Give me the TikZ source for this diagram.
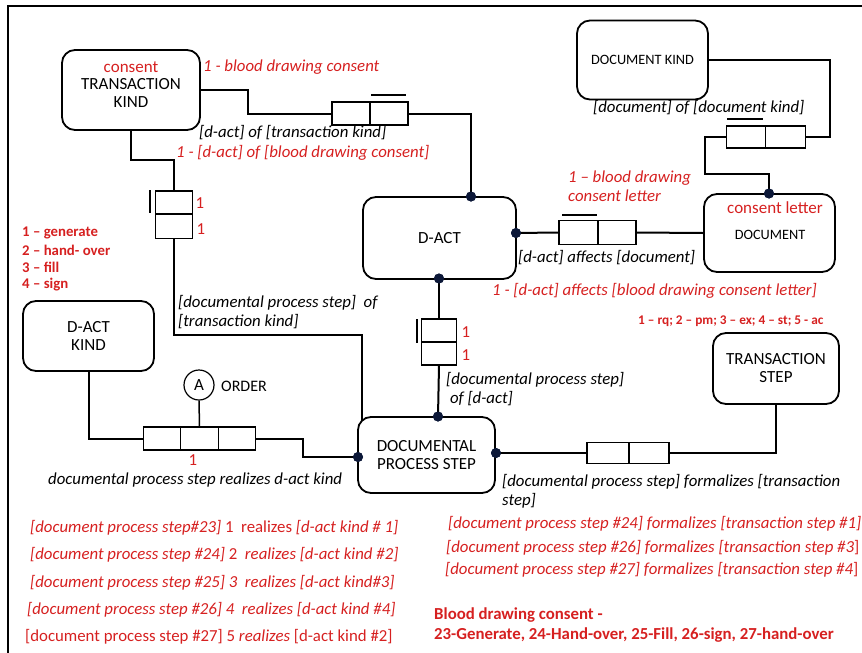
\documentclass[tikz,border=0pt]{standalone}
\usepackage{fontspec}
\setmainfont{Carlito}
\usetikzlibrary{calc}
\definecolor{rd}{RGB}{214,32,32}
\definecolor{dotc}{RGB}{12,24,56}
\newcommand\fslbl{\fontsize{16.8}{19}\selectfont}
\newcommand\fsbox{\fontsize{17}{18.5}\selectfont}
\newcommand\fsdoc{\fontsize{14.3}{17}\selectfont}
\newcommand\fsleg{\fontsize{14.8}{17}\selectfont}
\newcommand\fssmall{\fontsize{13.3}{15}\selectfont}
\newcommand\fsbig{\fontsize{16.8}{20}\selectfont}

\begin{document}
\begin{tikzpicture}[x=1pt,y=-1pt,
  box/.style={draw, line width=1.8pt, rounded corners=13pt, align=center, inner sep=0pt, font=\fsbox},
  cell/.style={draw, line width=1.1pt, minimum width=38pt, minimum height=23pt, inner sep=0pt},
  con/.style={line width=2pt},
  bar/.style={line width=2pt},
  dot/.style={circle, fill=dotc, inner sep=0pt, minimum size=10pt},
  lbl/.style={anchor=west, inner sep=0pt, font=\fslbl\itshape, align=left},
  rlbl/.style={lbl, text=rd},
  one/.style={inner sep=0pt, text=rd, font=\fslbl},
  leg/.style={anchor=west, inner sep=0pt, text=rd, font=\fsleg\bfseries},
  rlist/.style={anchor=west, inner sep=0pt, text=rd, font=\fslbl}
]
\useasboundingbox (0,0) rectangle (862,653);

% outer frame
\draw[line width=1.8pt] (8,653) -- (8,6) -- (862,6);

% object classes
\node[box, minimum width=138pt, minimum height=80pt] (tk) at (131,90) {};
\node[inner sep=0pt, font=\fsbox, align=center] (tkt) at (131,93) {TRANSACTION\\[-0.5pt]KIND};
\node[inner sep=0pt, font=\fsbox, text=rd] (tkc) at (131,67) {consent};

\node[box, minimum width=131pt, minimum height=79pt, font=\fsdoc] (dk) at (642.5,60) {DOCUMENT KIND};

\node[box, minimum width=153pt, minimum height=82pt] (dact) at (439.5,238) {D-ACT};

\node[box, minimum width=131pt, minimum height=78pt, font=\fsdoc] (doc) at (769.5,233) {};
\node[inner sep=0pt, font=\fsdoc] (doct) at (770,235) {DOCUMENT};
\node[inner sep=0pt, font=\fsbox, text=rd] (docc) at (775,208) {consent letter};

\node[box, minimum width=131pt, minimum height=70pt] (dak) at (88.5,336) {D-ACT\\[-0.5pt]KIND};

\node[box, minimum width=137pt, minimum height=76pt] (dps) at (426.5,455) {DOCUMENTAL\\[-0.5pt]PROCESS STEP};

\node[box, minimum width=126pt, minimum height=71pt] (ts) at (776,368.5) {TRANSACTION\\[-0.5pt]STEP};

% fact types
\node[cell] (f1a) at (351,113.5) {};
\node[cell] (f1b) at (389,113.5) {};
\node[cell, minimum width=37pt] (f2a) at (174,202.5) {};
\node[cell, minimum width=37pt, minimum height=24pt] (f2b) at (174,226.5) {};
\node[cell, minimum width=35pt] (f3a) at (439,330.5) {};
\node[cell, minimum width=35pt] (f3b) at (439,353.5) {};
\node[cell, minimum width=39pt, minimum height=24pt] (f4a) at (578.5,232.5) {};
\node[cell, minimum width=38pt, minimum height=24pt] (f4b) at (617,232.5) {};
\node[cell, minimum width=39pt, minimum height=22pt] (f5a) at (746,137) {};
\node[cell, minimum width=40pt, minimum height=22pt] (f5b) at (785.5,137) {};
\node[cell, minimum width=37.5pt] (f6a) at (162,438.5) {};
\node[cell, minimum width=37.5pt] (f6b) at (199.5,438.5) {};
\node[cell, minimum width=37.5pt] (f6c) at (237,438.5) {};
\node[cell, minimum width=42pt, minimum height=21pt] (f7a) at (608,453) {};
\node[cell, minimum width=40pt, minimum height=21pt] (f7b) at (649,453) {};

% uniqueness bars
\draw[bar] (371,95) -- (406,95);
\draw[bar] (149.5,190) -- (149.5,213);
\draw[bar] (417,319) -- (417,343);
\draw[bar] (562,215) -- (597,215);
\draw[bar] (727,119) -- (763,119);

% order circle
\node[circle, draw, line width=1.2pt, minimum size=30pt, inner sep=0pt, font=\fsbox] (ord) at (199,385) {A};

% connection dots
\node[dot] (d1) at (471,196.5) {};
\node[dot] (d2) at (516,233) {};
\node[dot] (d3) at (439,278.5) {};
\node[dot] (d4) at (438,416.5) {};
\node[dot] (d5) at (769,193.5) {};
\node[dot] (d6) at (358,457) {};
\node[dot] (d7) at (496,453) {};

% connectors
\draw[con] (tk.east) -| (248,113.5) -- (f1a.west);
\draw[con] (f1b.east) -| (d1.center);
\draw[con] (tk.south) -- (131,160) -| (f2a.north);
\draw[con] (f2b.south) |- (362,335) -- (362,420);
\draw[con] (d3.center) -- (f3a.north);
\draw[con] (f3b.south) -- (d4.center);
\draw[con] (d2.center) -- (f4a.west);
\draw[con] (f4b.east) -- (doc.west);
\draw[con] (dk.east) -| (830,137) -- (f5b.east);
\draw[con] (f5a.west) -| (705,174) -| (d5.center);
\draw[con] (dak.south) |- (f6a.west);
\draw[con] (f6c.east) -| (303,457) -- (d6.center);
\draw[line width=1.5pt] (ord.south) -- (f6b.north);
\draw[con] (d7.center) -- (f7a.west);
\draw[con] (f7b.east) -| (ts.south);

% redraw dots on top
\foreach \d in {d1,d2,d3,d4,d5,d6,d7} \fill[dotc] (\d) circle (5pt);

% fact type readings
\node[rlbl] (l1) at (203,67) {1 - blood drawing consent};
\node[lbl] (l2) at (199,133) {[d-act] of [transaction kind]};
\node[rlbl] (l3) at (176,153) {1 - [d-act] of [blood drawing consent]};
\node[lbl] (l4) at (178,312.5) {[documental process step]\ \ of\\{}[transaction kind]};
\node[rlbl] (l5) at (568,186.5) {1 -- blood drawing\\consent letter};
\node[lbl] (l6) at (518,258) {[d-act] affects [document]};
\node[rlbl] (l7) at (492,291) {1 - [d-act] affects [blood drawing consent letter]};
\node[lbl] (l8) at (593,108) {[document] of [document kind]};
\node[lbl] (l9) at (446,389.5) {[documental process step]\\\ of [d-act]};
\node[anchor=west, inner sep=0pt, font=\fontsize{16}{18}\selectfont] (l10) at (221,386) {ORDER};
\node[lbl] (l11) at (48,480) {documental process step realizes d-act kind};
\node[lbl] (l12) at (502,491.5) {[documental process step] formalizes [transaction\\step]};

% multiplicities
\node[one] (m1) at (200,203) {1};
\node[one] (m2) at (201,229) {1};
\node[one] (m3) at (466,332) {1};
\node[one] (m4) at (466,355) {1};
\node[one] (m5) at (193,460) {1};

% legends
\node[leg] (g1) at (22,233) {1 -- generate};
\node[leg] (g2) at (22,250) {2 -- hand- over};
\node[leg] (g3) at (22,267) {3 -- fill};
\node[leg] (g4) at (22,285) {4 -- sign};
\node[anchor=west, inner sep=0pt, text=rd, font=\fssmall\bfseries] (g5) at (638,321) {1 -- rq; 2 -- pm; 3 -- ex; 4 -- st; 5 - ac};

% populations
\node[rlist] (p1) at (30,528) {\itshape [document process step\#23]\upshape\ 1\ \ realizes \itshape[d-act kind \# 1]};
\node[rlist] (p2) at (30,555) {\itshape [document process step \#24]\upshape\ 2\ \ \itshape realizes [d-act kind \#2]};
\node[rlist] (p3) at (30,583) {\itshape [document process step \#25] 3\ \ realizes [d-act kind\#3]};
\node[rlist] (p4) at (27,610) {\itshape [document process step \#26] 4\ \ realizes [d-act kind \#4]};
\node[rlist] (p5) at (25,637) {[document process step \#27] 5 \textit{realizes} [d-act kind \#2]};

\node[rlist] (q1) at (448,524) {\itshape [document process step \#24] formalizes [transaction step \#1]};
\node[rlist] (q2) at (446,548) {\itshape [document process step \#26] formalizes [transaction step \#3\upshape]};
\node[rlist] (q3) at (445,570) {\itshape [document process step \#27] formalizes [transaction step \#4\upshape]};

\node[anchor=west, inner sep=0pt, text=rd, font=\fsbig\bfseries, align=left] (bd) at (434,625) {Blood drawing consent -\\23-Generate, 24-Hand-over, 25-Fill, 26-sign, 27-hand-over};
\end{tikzpicture}
\end{document}
